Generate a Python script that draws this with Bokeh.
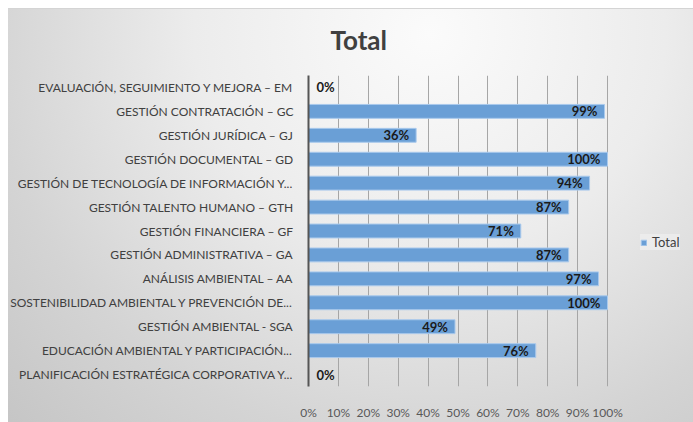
from bokeh.plotting import figure
from bokeh.models import ColumnDataSource, FactorRange, Range1d, Legend, LegendItem, NumeralTickFormatter, FixedTicker
from bokeh.embed import file_html
from bokeh.resources import INLINE

categories = [
    "EVALUACIÓN, SEGUIMIENTO Y MEJORA – EM",
    "GESTIÓN CONTRATACIÓN – GC",
    "GESTIÓN JURÍDICA – GJ",
    "GESTIÓN DOCUMENTAL – GD",
    "GESTIÓN DE TECNOLOGÍA DE INFORMACIÓN Y...",
    "GESTIÓN TALENTO HUMANO – GTH",
    "GESTIÓN FINANCIERA – GF",
    "GESTIÓN ADMINISTRATIVA – GA",
    "ANÁLISIS AMBIENTAL – AA",
    "SOSTENIBILIDAD AMBIENTAL Y PREVENCIÓN DE...",
    "GESTIÓN AMBIENTAL - SGA",
    "EDUCACIÓN AMBIENTAL Y PARTICIPACIÓN...",
    "PLANIFICACIÓN ESTRATÉGICA CORPORATIVA Y...",
]
values = [0.00, 0.99, 0.36, 1.00, 0.94, 0.87, 0.71, 0.87, 0.97, 1.00, 0.49, 0.76, 0.00]
labels = [f"{round(v*100)}%" for v in values]
x_ticks = [0.0, 0.1, 0.2, 0.3, 0.4, 0.5, 0.6, 0.7, 0.8, 0.9, 1.0]

FONT = "Lato"
BAR = "#6a9fd6"

src = ColumnDataSource(dict(
    cat=categories,
    val=values,
    lab=labels,
    align=["left" if v == 0 else "right" for v in values],
    xoff=[8 if v == 0 else -7 for v in values],
))

# frame spans to the right edge (room for the legend); 0%..100% covers 299 of its 385 px
p = figure(
    width=693, height=422,
    y_range=FactorRange(factors=list(reversed(categories))),
    x_range=Range1d(0, 385 / 299),
    output_backend="svg", toolbar_location=None,
    min_border_left=308, min_border_right=0, min_border_top=75, min_border_bottom=32,
)
p.styles = {"background":
            "linear-gradient(#ffffff, #ffffff) 0 0 / 100% 8px no-repeat, "
            "linear-gradient(#ffffff, #ffffff) 0 0 / 8px 100% no-repeat, "
            "linear-gradient(#d4d4d4, #d4d4d4) 8px 8px / 100% 1px no-repeat, "
            "radial-gradient(ellipse 85% 130% at 62% 8%, #fbfbfb 0%, #ececec 40%, #d4d4d4 75%, #c6c6c6 100%)"}
p.background_fill_alpha = 0
p.border_fill_alpha = 0
p.outline_line_color = None

r = p.hbar(y="cat", right="val", height=0.58, source=src,
           fill_color=BAR, line_color="#a9c9ec", line_width=1)

p.text(x="val", y="cat", text="lab", source=src, text_align="align", x_offset="xoff",
       text_baseline="middle", text_font_style="bold", text_font_size="13px",
       text_color="#1a1a1a", text_font={"value": FONT})

p.title.text = "Total"
p.title.align = "left"
p.title.text_font = FONT
p.title.text_font_size = "26px"
p.title.text_font_style = "bold"
p.title.text_color = "#404040"
p.title.offset = 22
p.title.standoff = 40

p.xaxis.ticker = FixedTicker(ticks=x_ticks)
p.xaxis.formatter = NumeralTickFormatter(format="0%")
p.xaxis.axis_line_color = None
p.xaxis.major_tick_line_color = None
p.xaxis.minor_tick_line_color = None
p.xaxis.major_label_text_font = FONT
p.xaxis.major_label_text_font_size = "12px"
p.xaxis.major_label_text_color = "#595959"
p.xaxis.major_label_standoff = 12

p.yaxis.axis_line_color = "#555555"
p.yaxis.axis_line_width = 2
p.yaxis.major_tick_line_color = None
p.yaxis.minor_tick_line_color = None
p.yaxis.major_label_text_font = FONT
p.yaxis.major_label_text_font_size = "12px"
p.yaxis.major_label_text_color = "#404040"
p.yaxis.major_label_standoff = 9

p.ygrid.grid_line_color = None
p.xgrid.grid_line_color = "#a6a6a6"
p.xgrid.grid_line_width = 1
p.xgrid.ticker = FixedTicker(ticks=x_ticks)

legend = Legend(items=[LegendItem(label="Total", renderers=[r])], location=(332, 136),
                label_text_font=FONT, label_text_font_size="13px", label_text_color="#404040",
                glyph_width=7, glyph_height=7, label_standoff=5, padding=9, spacing=0,
                label_height=12,
                background_fill_color="#f2f2f2", background_fill_alpha=0.6,
                border_line_color=None, margin=0)
p.add_layout(legend, "center")

open("out.html", "w").write(file_html(p, INLINE))
